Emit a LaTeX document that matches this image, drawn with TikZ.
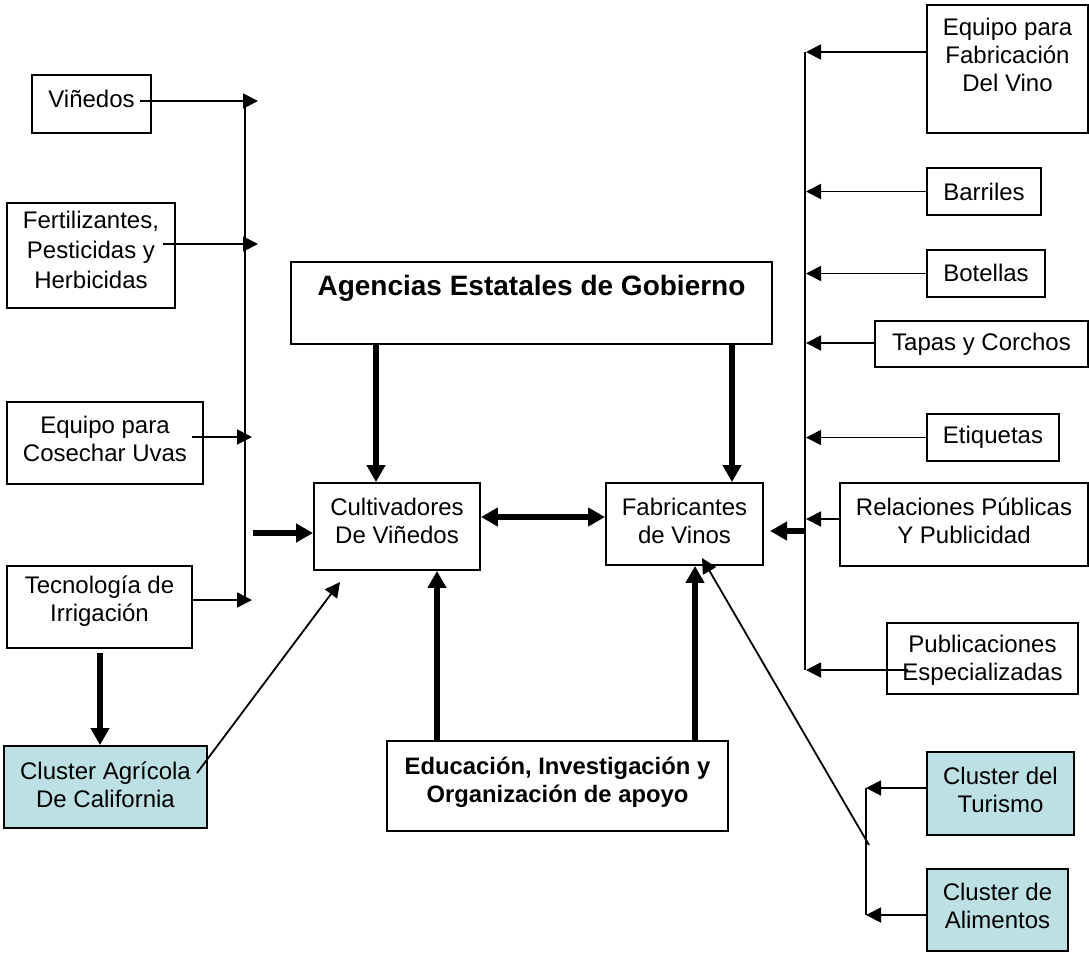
\documentclass[tikz,border=0pt]{standalone}
\usepackage{fontspec}
\setmainfont{Liberation Sans}
\usetikzlibrary{arrows.meta,calc}
\definecolor{clus}{RGB}{188,224,227}
\begin{document}
\begin{tikzpicture}[x=1pt,y=-1pt,
  box/.style={draw=black,line width=1.9pt,inner sep=0pt,fill=white},
  cbox/.style={box,fill=clus},
  lbl/.style={font=\fontsize{24}{28}\selectfont,align=center,inner sep=0pt},
  blbl/.style={font=\fontsize{23.8}{28}\selectfont\bfseries,align=center,inner sep=0pt},
  thinar/.style={line width=1.8pt,-{Triangle[length=15pt,width=15pt]}},
  thickar/.style={line width=6pt,-{Triangle[length=17pt,width=18pt]}},
  dblar/.style={line width=5.5pt,{Triangle[length=17pt,width=18pt]}-{Triangle[length=17pt,width=18pt]}},
  plainln/.style={line width=1.8pt}]
\useasboundingbox (0,0) rectangle (1089,954);

% ---------- boxes ----------
\node[box,minimum width=119pt,minimum height=58pt] (vin) at (91.5,104) {};
\node[box,minimum width=168pt,minimum height=105pt] (fer) at (91,255.5) {};
\node[box,minimum width=196pt,minimum height=82pt] (cos) at (105,443) {};
\node[box,minimum width=185pt,minimum height=82pt] (irr) at (99.5,607) {};
\node[cbox,minimum width=203pt,minimum height=82pt] (agr) at (105.5,787) {};
\node[box,minimum width=481pt,minimum height=82pt] (age) at (531.5,303) {};
\node[box,minimum width=166pt,minimum height=87pt] (cul) at (397,526.5) {};
\node[box,minimum width=157pt,minimum height=82pt] (fab) at (684.5,524) {};
\node[box,minimum width=341pt,minimum height=90pt] (edu) at (557.5,786) {};
\node[box,minimum width=161pt,minimum height=128pt] (efv) at (1007.5,69) {};
\node[box,minimum width=114pt,minimum height=47pt] (bar) at (984,191.5) {};
\node[box,minimum width=118pt,minimum height=47pt] (bot) at (986,273.5) {};
\node[box,minimum width=213pt,minimum height=46pt] (tap) at (981.5,344) {};
\node[box,minimum width=132pt,minimum height=47pt] (eti) at (993,437.5) {};
\node[box,minimum width=248pt,minimum height=83pt] (rel) at (964,524.5) {};
\node[box,minimum width=191pt,minimum height=71pt] (pub) at (982.5,658.5) {};
\node[cbox,minimum width=147pt,minimum height=83pt] (tur) at (1000.5,793.5) {};
\node[cbox,minimum width=141pt,minimum height=82pt] (ali) at (997.5,910) {};

% ---------- labels ----------
\node[lbl] (vin-t) at (91.5,99) {Viñedos};
\node[lbl,font=\fontsize{24}{30}\selectfont] (fer-t) at (91,250) {Fertilizantes,\\Pesticidas y\\Herbicidas};
\node[lbl] (cos-t) at (105,439) {Equipo para\\Cosechar Uvas};
\node[lbl] (irr-t) at (99.5,601) {Tecnología de\\Irrigación};
\node[lbl] (agr-t) at (105.5,785) {Cluster Agrícola\\De California};
\node[lbl,font=\fontsize{28}{32}\selectfont\bfseries] (age-t) at (531.5,288) {Agencias Estatales de Gobierno};
\node[lbl] (cul-t) at (397,521) {Cultivadores\\De Viñedos};
\node[lbl] (fab-t) at (684.5,521) {Fabricantes\\de Vinos};
\node[blbl] (edu-t) at (557.5,782) {Educación, Investigación y\\Organización de apoyo};
\node[lbl] (efv-t) at (1007.5,55) {Equipo para\\Fabricación\\Del Vino};
\node[lbl] (bar-t) at (984,192) {Barriles};
\node[lbl] (bot-t) at (986,273) {Botellas};
\node[lbl] (tap-t) at (981.5,344) {Tapas y Corchos};
\node[lbl] (eti-t) at (993,437) {Etiquetas};
\node[lbl] (rel-t) at (964,521) {Relaciones Públicas\\Y Publicidad};
\node[lbl] (pub-t) at (982.5,660) {Publicaciones\\Especializadas};
\node[lbl] (tur-t) at (1000.5,790) {Cluster del\\Turismo};
\node[lbl] (ali-t) at (997.5,906) {Cluster de\\Alimentos};

% ---------- coordinates ----------
\coordinate (vinS) at (140,101);   \coordinate (vinT) at (258,101);
\coordinate (ferS) at (163,244);   \coordinate (ferT) at (258,244);
\coordinate (cosS) at (192,437);   \coordinate (cosT) at (252,437);
\coordinate (irrS) at (192,600);   \coordinate (irrT) at (252,600);
\coordinate (lbTop) at (245,101);  \coordinate (lbBot) at (245,600);
\coordinate (lbOut) at (253,533);
\coordinate (irrD) at (100,653);
\coordinate (agrS) at (197,773);   \coordinate (agrT) at (340,582);
\coordinate (rbTop) at (805,52);   \coordinate (rbBot) at (805,670);
\coordinate (rbOut) at (805,531);  \coordinate (fabIn) at (770,531);
\coordinate (pubS) at (908,670);
\coordinate (sbTop) at (866,788);  \coordinate (sbBot) at (866,915);
\coordinate (sbOut) at (869,845);  \coordinate (fabT) at (702,558);

% ---------- left side ----------
\draw[plainln] (lbTop) -- (lbBot);
\draw[thinar] (vinS) -- (vinT);
\draw[thinar] (ferS) -- (ferT);
\draw[thinar] (cosS) -- (cosT);
\draw[thinar] (irrS) -- (irrT);
\draw[thickar] (lbOut) -- (lbOut -| cul.west);
\draw[thickar] (irrD) -- (irrD |- agr.north);
\draw[thinar] (agrS) -- (agrT);

% ---------- center ----------
\draw[thickar] (age.south -| 376,0) -- (cul.north -| 376,0);
\draw[thickar] (age.south -| 732,0) -- (fab.north -| 732,0);
\draw[dblar] (cul.east |- 0,517) -- (fab.west |- 0,517);
\draw[thickar] (edu.north -| 437,0) -- (cul.south -| 437,0);
\draw[thickar] (edu.north -| 695,0) -- (fab.south -| 695,0);

% ---------- right side ----------
\draw[plainln] (rbTop) -- (rbBot);
\draw[thinar] (efv.west |- rbTop) -- (806,52);
\draw[thinar] (bar.west) -- (bar.west -| 806,0);
\draw[thinar] (bot.west) -- (bot.west -| 806,0);
\draw[thinar] (tap.west |- 0,343) -- (806,343);
\draw[thinar] (eti.west) -- (eti.west -| 806,0);
\draw[thinar] (rel.west |- 0,519) -- (806,519);
\draw[thinar] (pubS) -- (806,670);
\draw[thickar] (rbOut) -- (fabIn);

% ---------- bottom right ----------
\draw[plainln] (sbTop) -- (sbBot);
\draw[thinar] (tur.west |- sbTop) -- (sbTop);
\draw[thinar] (ali.west |- sbBot) -- (sbBot);
\draw[thinar] (sbOut) -- (fabT);
\end{tikzpicture}
\end{document}
